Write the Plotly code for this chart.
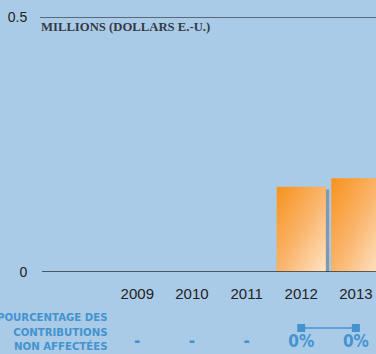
import base64
import plotly.graph_objects as go

# ---- data ----
years = [2009, 2010, 2011, 2012, 2013]
millions = [None, None, None, 0.167, 0.184]
pct_unassigned = [None, None, None, 0, 0]
y_ticks = [0, 0.5]
y_tick_labels = ["0", "0.5"]
unit_title = "MILLIONS (DOLLARS E.-U.)"
row_title = "POURCENTAGE DES<br>CONTRIBUTIONS<br>NON AFFECTÉES"

BG = "#aacbe8"
BLUE = "#4393cf"
BAR_W = 0.9
NARROW = "Liberation Sans Narrow, DejaVu Sans Condensed, Arial Narrow, sans-serif"

svg = ('<svg xmlns="http://www.w3.org/2000/svg" width="100" height="100" '
       'viewBox="0 0 100 100" preserveAspectRatio="none">'
       '<defs><linearGradient id="g" x1="0" y1="0" x2="1" y2="1">'
       '<stop offset="0" stop-color="#f7921c"/>'
       '<stop offset="0.5" stop-color="#fab46a"/>'
       '<stop offset="1" stop-color="#fee4c6"/></linearGradient></defs>'
       '<rect x="0" y="0" width="100" height="100" fill="url(#g)"/></svg>')
svg_uri = "data:image/svg+xml;base64," + base64.b64encode(svg.encode()).decode()

fig = go.Figure()

fig.add_trace(go.Bar(
    x=years, y=millions, base=-0.005, width=BAR_W, offset=-BAR_W / 2 + 0.06,
    marker=dict(color="rgba(50,60,80,0.35)", line=dict(width=0)),
    hoverinfo="skip", showlegend=False, xaxis="x", yaxis="y"))
fig.add_trace(go.Bar(
    x=years, y=millions, width=BAR_W,
    marker=dict(color="#f9a850", line=dict(width=0)),
    showlegend=False, xaxis="x", yaxis="y"))

images = []
for yr, v in zip(years, millions):
    if v is None:
        continue
    images.append(dict(source=svg_uri, xref="x", yref="y",
                       x=yr - BAR_W / 2, y=v, sizex=BAR_W, sizey=v,
                       xanchor="left", yanchor="top", sizing="stretch",
                       layer="above"))

fig.add_trace(go.Scatter(
    x=years, y=pct_unassigned, mode="lines+markers",
    line=dict(color=BLUE, width=1.5),
    marker=dict(symbol="square", size=8, color=BLUE),
    hoverinfo="skip", showlegend=False, xaxis="x", yaxis="y2"))
fig.add_trace(go.Scatter(
    x=years, y=[v if v is not None else 0 for v in pct_unassigned],
    mode="text",
    text=[f"<b>{v}%</b>" if v is not None else "<b>-</b>" for v in pct_unassigned],
    textposition="bottom center",
    textfont=dict(family=NARROW, size=17, color=BLUE),
    hoverinfo="skip", showlegend=False, xaxis="x", yaxis="y3"))

W, H = 376, 354
L, T = 42, 17
plot_h = H - T
main_bottom = (H - 272) / plot_h

fig.update_layout(
    width=W, height=H,
    margin=dict(l=L, r=0, t=T, b=0, autoexpand=False),
    paper_bgcolor=BG, plot_bgcolor=BG,
    barmode="overlay",
    images=images,
    xaxis=dict(range=[years[0] - 1.744, years[0] + 4.368], anchor="y", automargin=False,
               tickvals=years, ticktext=[str(y) for y in years],
               showgrid=False, zeroline=False, showline=False,
               ticks="outside", ticklen=8, tickcolor="rgba(0,0,0,0)",
               tickfont=dict(family="Liberation Sans, Arial, sans-serif", size=15, color="#222222"),
               fixedrange=True),
    yaxis=dict(domain=[main_bottom, 1], range=[0, 0.5], automargin=False,
               tickvals=y_ticks, ticktext=y_tick_labels,
               showgrid=False, zeroline=False, showline=False,
               ticks="outside", ticklen=11, tickcolor="rgba(0,0,0,0)",
               tickfont=dict(family="Liberation Sans, Arial, sans-serif", size=14, color="#222222")),
    yaxis2=dict(domain=[0, main_bottom], range=[-0.317, 0.683], automargin=False,
                visible=False, anchor="x"),
    yaxis3=dict(domain=[0, main_bottom], range=[-0.245, 0.755], automargin=False,
                visible=False, anchor="x", overlaying="y2"),
    shapes=[
        dict(type="line", xref="paper", yref="y", x0=-0.006, x1=1, y0=y_ticks[1], y1=y_ticks[1],
             line=dict(color="#5b6877", width=2), layer="above"),
        dict(type="line", xref="paper", yref="y", x0=0, x1=1, y0=y_ticks[0], y1=y_ticks[0],
             line=dict(color="#2a2f36", width=1.5), layer="above"),
    ],
    annotations=[
        dict(text="<b>" + unit_title + "</b>", xref="paper", yref="y", x=0, y=y_ticks[1],
             xanchor="left", yanchor="top", xshift=-3, yshift=-1, showarrow=False,
             font=dict(family="Liberation Serif, DejaVu Serif, serif", size=12.7, color="#343a44")),
        dict(text="<b>" + row_title + "</b>", xref="paper", yref="paper",
             x=(110 - L) / (W - L), y=(354 - 309) / plot_h,
             xanchor="right", yanchor="top", align="right", showarrow=False,
             font=dict(family=NARROW, size=11.3, color=BLUE)),
    ],
)

fig.write_html("out.html", config={"displayModeBar": False},
               post_script="document.body.style.margin='0';document.body.style.overflow='hidden';")
